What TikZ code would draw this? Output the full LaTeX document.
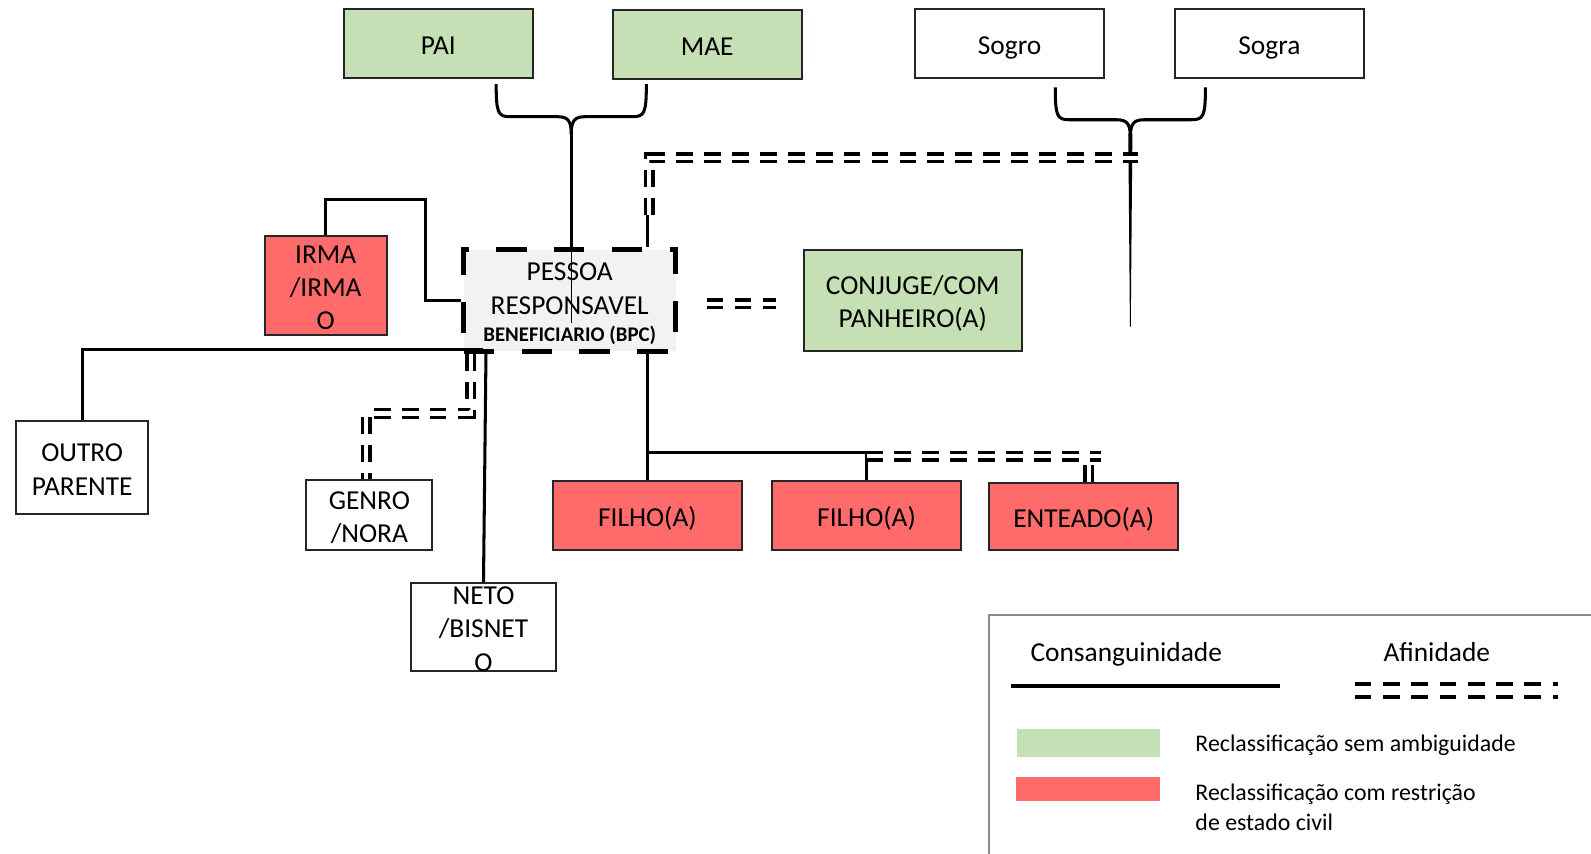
\documentclass[tikz,border=0pt]{standalone}
\usepackage{fontspec}
\setmainfont{Carlito}
\usetikzlibrary{calc}
\definecolor{grn}{HTML}{C5E0B4}
\definecolor{rd}{HTML}{FF6B6B}
\definecolor{pgray}{HTML}{F2F2F2}
\definecolor{lgray}{HTML}{8C8C8C}
\definecolor{bord}{HTML}{262626}
\newcommand\topstr{\rule{0pt}{32pt}}
\newcommand\botstr{\rule[-10.6pt]{0pt}{0pt}}
\begin{document}
\begin{tikzpicture}[x=1pt,y=-1pt,
  box/.style={draw=bord, line width=2pt, inner sep=0pt},
  btext/.style={inner sep=0pt, align=center, font=\fontsize{27}{33}\selectfont},
  greenbox/.style={box, fill=grn},
  redbox/.style={box, fill=rd},
  whitebox/.style={box, fill=white},
  blood/.style={draw=black, line width=3pt},
  affin/.style={draw=black, line width=3.5pt, double=white, double distance=4pt, dash pattern=on 16.5pt off 11pt},
  legtext/.style={inner sep=0pt, anchor=base, font=\fontsize{27}{33}\selectfont},
  legsmall/.style={inner sep=0pt, align=left, anchor=west, font=\fontsize{23.5}{29}\selectfont},
]
\useasboundingbox (0,0) rectangle (1568,841);
\fill[white] (0,0) rectangle (1568,841);

% boxes
\node[greenbox, minimum width=186pt, minimum height=68pt,
  label={[btext,name=paiT]center:{\topstr PAI\botstr}}] (pai) at (432,43) {};
\node[greenbox, minimum width=186pt, minimum height=68pt,
  label={[btext,name=maeT]center:{\topstr MAE\botstr}}] (mae) at (697,44) {};
\node[whitebox, minimum width=186pt, minimum height=68pt,
  label={[btext,name=sogroT]center:{\topstr Sogro\botstr}}] (sogro) at (995,43) {};
\node[whitebox, minimum width=186pt, minimum height=68pt,
  label={[btext,name=sograT]center:{\topstr Sogra\botstr}}] (sogra) at (1251,43) {};
\node[redbox, minimum width=120pt, minimum height=97pt,
  label={[btext,name=irmaT]center:{\topstr IRMA\\/IRMA\\O\botstr}}] (irma) at (321,281.5) {};
\node[draw=black, line width=5pt, dash pattern=on 30pt off 27pt, fill=pgray, inner sep=0pt,
      minimum width=209pt, minimum height=100pt,
      label={[btext,name=pessoaT]center:{\topstr PESSOA\\RESPONSAVEL\\[-6pt]{\fontsize{20.5}{24}\selectfont\bfseries BENEFICIARIO (BPC)\botstr}}}]
      (pessoa) at (561.5,296) {};
\node[greenbox, minimum width=215pt, minimum height=100pt,
  label={[btext,name=conjugeT]center:{\topstr CONJUGE/COM\\PANHEIRO(A)\botstr}}] (conjuge) at (899.5,296) {};
\node[whitebox, minimum width=130pt, minimum height=92pt,
  label={[btext,name=outroT]center:{\topstr OUTRO\\PARENTE\botstr}}] (outro) at (81,461) {};
\node[whitebox, minimum width=124pt, minimum height=69pt,
  label={[btext,name=genroT]center:{\topstr GENRO\\/NORA\botstr}}] (genro) at (364,507.5) {};
\node[whitebox, minimum width=143pt, minimum height=86pt,
  label={[btext,name=netoT]center:{\topstr NETO\\/BISNET\\O\botstr}}] (neto) at (476.5,618) {};
\node[redbox, minimum width=186pt, minimum height=68pt,
  label={[btext,name=filho1T]center:{\topstr FILHO(A)\botstr}}] (filho1) at (638,508) {};
\node[redbox, minimum width=186pt, minimum height=68pt,
  label={[btext,name=filho2T]center:{\topstr FILHO(A)\botstr}}] (filho2) at (854,508) {};
\node[redbox, minimum width=186pt, minimum height=66pt,
  label={[btext,name=enteadoT]center:{\topstr ENTEADO(A)\botstr}}] (enteado) at (1068,509) {};

% brace PAI / MAE
\coordinate (bpL) at (489,83);
\coordinate (bpR) at (637,83);
\coordinate (bpC) at (563,132);
\draw[blood] (bpL) .. controls (489,112) and (491,115) .. (503,115) -- (549,115) .. controls (559,115) and (563,118) .. (bpC);
\draw[blood] (bpR) .. controls (637,112) and (635,115) .. (623,115) -- (577,115) .. controls (567,115) and (563,118) .. (bpC);
\draw[blood] (bpC) -- (bpC |- pessoa.north);
\draw[black, line width=0.9pt] (bpC |- pessoa.north) -- (563,318);

% brace Sogro / Sogra
\coordinate (bsL) at (1040,86);
\coordinate (bsR) at (1188,86);
\coordinate (bsC) at (1114,135);
\draw[blood] (bsL) .. controls (1040,115) and (1042,118) .. (1054,118) -- (1100,118) .. controls (1110,118) and (1114,121) .. (bsC);
\draw[blood] (bsR) .. controls (1188,115) and (1186,118) .. (1174,118) -- (1128,118) .. controls (1118,118) and (1114,121) .. (bsC);
\fill[black] (1112,132) -- (1116,132) -- (1114.4,322) -- (1113.6,322) -- cycle;

% affinity to in-laws
\draw[blood] (pessoa.north -| filho1.north) -- ++(0,-32) coordinate (afTop);
\coordinate (sogEnd) at (1122,155.5);
\draw[affin] ([xshift=2pt]afTop) |- (sogEnd);

% spouse
\draw[affin] ([xshift=28pt,yshift=-3.5pt]pessoa.east) -- ([xshift=-26pt,yshift=-3.5pt]conjuge.west);

% siblings
\draw[blood] (irma.north) |- (419,197) |- (pessoa.west);

% other relative
\coordinate (outEnd) at (476,344);
\draw[blood] (outro.north) |- (outEnd);

% grandchild
\draw[blood] (479,344) -- (neto.north);

% son/daughter-in-law
\coordinate (gnStart) at (464,349);
\draw[affin] (gnStart) |- (361,407.5) -- ([xshift=-3pt]genro.north);

% children
\draw[blood] (pessoa.south -| filho1.north) -- (filho1.north);
\draw[blood] (filho1.north |- 0,446) -| (filho2.north);
\coordinate (chEnd) at (1085,449.5);
\draw[affin] (filho2.north |- chEnd) -- (chEnd);
\draw[affin] ([xshift=5pt]enteado.north) -- ([xshift=5pt]enteado.north |- 0,456);

% legend
\draw[lgray, line width=2pt] (975,845) -- (975,606) -- (1572,606);
\node[legtext] (lcons) at (1110,652) {Consanguinidade};
\node[legtext] (lafin) at (1416,652) {Afinidade};
\coordinate (lsA) at (996,676);
\coordinate (lsB) at (1261,676);
\draw[black, line width=4pt] (lsA) -- (lsB);
\coordinate (ldA) at (1335,680.5);
\coordinate (ldB) at (1535.5,680.5);
\draw[draw=black, line width=4pt, double=white, double distance=8.5pt, dash pattern=on 16.5pt off 11.4pt] (ldA) -- (ldB);
\node[fill=grn, inner sep=0pt, minimum width=141pt, minimum height=28pt] (lgreen) at (1072.5,732) {};
\node[fill=rd, inner sep=0pt, minimum width=142pt, minimum height=23pt] (lred) at (1072,777.5) {};
\node[legsmall] (ltext1) at (1178,734) {Reclassificação sem ambiguidade};
\node[legsmall] (ltext2) at (1178,795.5) {Reclassificação com restrição\\de estado civil};
\end{tikzpicture}
\end{document}
